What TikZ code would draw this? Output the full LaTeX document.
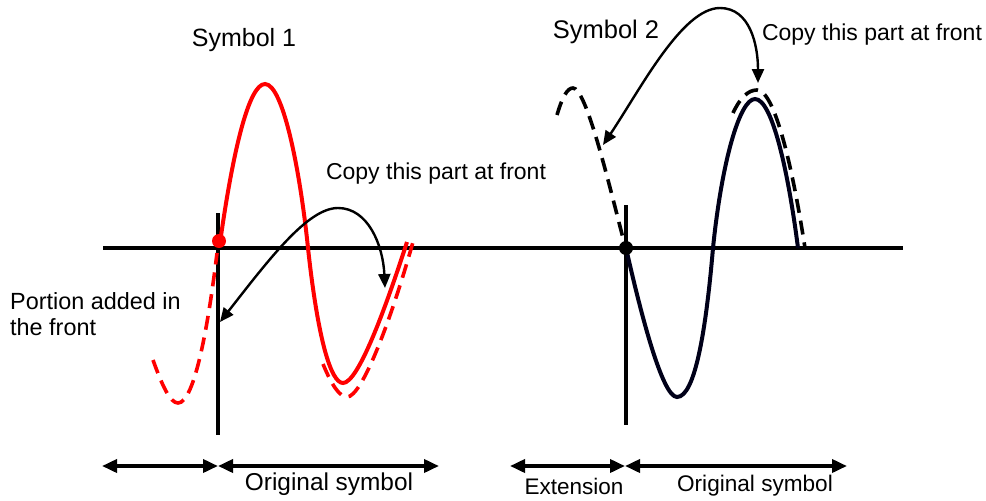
\documentclass[tikz,border=0pt]{standalone}
\usepackage{fontspec}
\setmainfont{Liberation Sans}
\usetikzlibrary{arrows.meta}
\begin{document}
\begin{tikzpicture}[x=1pt,y=-1pt,
  lbl/.style={font=\fontsize{23}{26}\selectfont, inner sep=0pt},
  axisline/.style={line width=3.2pt},
  redcurve/.style={red, line width=4pt},
  reddash/.style={red, line width=3.6pt, dash pattern=on 14pt off 8pt},
  blkcurve/.style={black!90!blue, line width=4pt},
  blkdash/.style={black, line width=3.6pt, dash pattern=on 14pt off 8pt},
  arr/.style={line width=2.4pt, {Triangle[length=14pt,width=12pt]}-{Triangle[length=14pt,width=12pt]}},
  span/.style={line width=3.6pt, {Triangle[length=15pt,width=13pt]}-{Triangle[length=15pt,width=13pt]}}]
\useasboundingbox (0,0) rectangle (986,501);
% axes
\coordinate (axL) at (103,248);
\coordinate (axR) at (903,248);
\draw[axisline] (axL) -- (axR);
\coordinate (v1t) at (218,213); \coordinate (v1b) at (218,435);
\coordinate (v2t) at (626,205); \coordinate (v2b) at (626,425);
\draw[axisline] (v1t) -- (v1b);
\draw[axisline] (v2t) -- (v2b);
% symbol 1
\draw[redcurve] (220,243) .. controls (233,150) and (249,84) .. (265,84)
  .. controls (283,84) and (300,170) .. (308,248)
  .. controls (318,340) and (331,383) .. (343,383)
  .. controls (358,383) and (385,310) .. (407,242);
\draw[reddash] (153,360) .. controls (162,385) and (170,403) .. (178,403)
  .. controls (195,403) and (209,320) .. (217,253);
\draw[reddash] (323,364) .. controls (332,386) and (340,397) .. (347,397)
  .. controls (362,397) and (391,320) .. (413,242);
\fill[red] (219,241) circle (7);
% symbol 2
\draw[blkcurve] (626,248) .. controls (640,310) and (662,397) .. (677,397)
  .. controls (695,397) and (706,330) .. (713,248)
  .. controls (722,160) and (740,99) .. (755,99)
  .. controls (772,99) and (788,170) .. (798,248);
\draw[blkdash] (733,113) .. controls (740,98) and (748,90) .. (757,90)
  .. controls (775,90) and (793,170) .. (805,248);
\draw[blkdash] (557,115) .. controls (562,98) and (567,88) .. (573,88)
  .. controls (586,88) and (608,180) .. (624,242);
\fill (626,248) circle (7);
% copy arrows
\coordinate (a1s) at (220,322); \coordinate (a1e) at (385,288);
\draw[arr] (a1s) .. controls (270,258) and (308,208) .. (338,208)
  .. controls (368,208) and (383,245) .. (a1e);
\coordinate (a2s) at (603,145); \coordinate (a2e) at (758,83);
\draw[arr] (a2s) .. controls (640,90) and (682,8) .. (720,8)
  .. controls (750,8) and (758,45) .. (a2e);
% bottom spans
\coordinate (b1) at (102,466); \coordinate (b2) at (218,466); \coordinate (b3) at (439,466);
\coordinate (c1) at (510,466); \coordinate (c2) at (625,466); \coordinate (c3) at (847,466);
\draw[span] (b1) -- (b2);
\draw[span] (b2) -- (b3);
\draw[span] (c1) -- (c2);
\draw[span] (c2) -- (c3);
% labels
\node[lbl, font=\fontsize{25}{28}\selectfont] (s1) at (244,40) {Symbol 1};
\node[lbl, font=\fontsize{25.5}{28}\selectfont] (s2) at (606,32) {Symbol 2};
\node[lbl] (cp1) at (436,174) {Copy this part at front};
\node[lbl] (cp2) at (872,35) {Copy this part at front};
\node[lbl, anchor=west, align=left, font=\fontsize{23.4}{26}\selectfont] (pa) at (10,314) {Portion added in\\the front};
\node[lbl, font=\fontsize{24.4}{27}\selectfont] (o1) at (329,484) {Original symbol};
\node[lbl, font=\fontsize{22.5}{26}\selectfont] (ex) at (574,486) {Extension};
\node[lbl, font=\fontsize{22.6}{26}\selectfont] (o2) at (755,486) {Original symbol};
\end{tikzpicture}
\end{document}
